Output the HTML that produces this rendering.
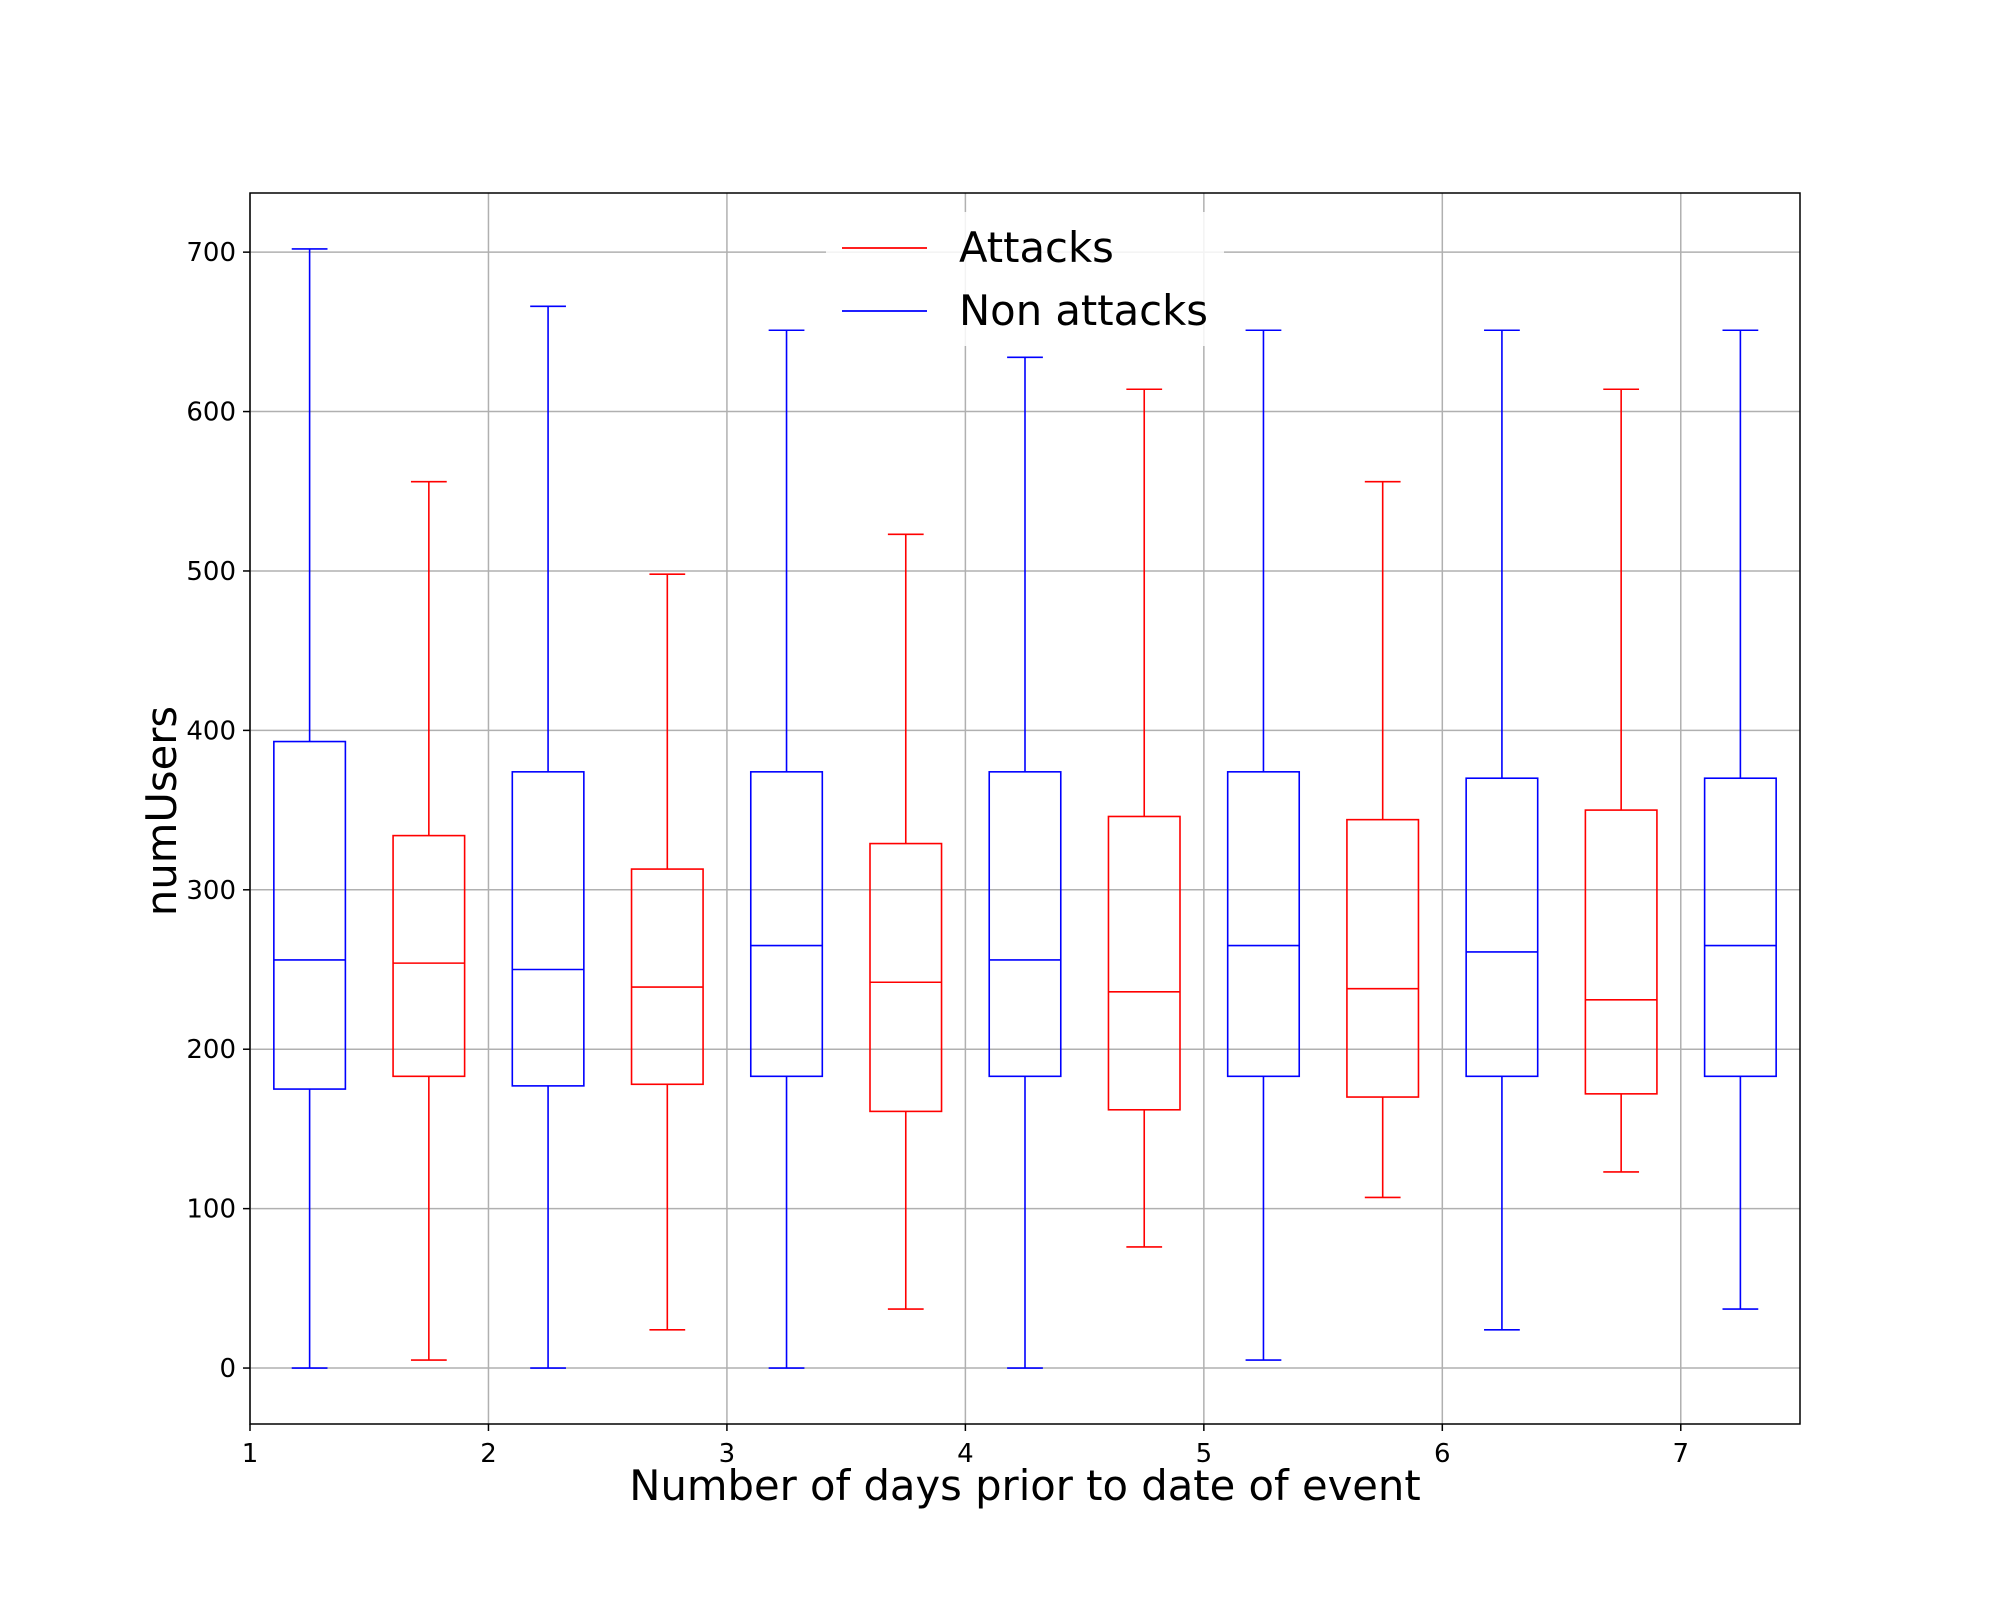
<!DOCTYPE html>
<html><head><meta charset="utf-8"><style>
html,body{margin:0;padding:0;background:#fff;}
svg{display:block;font-family:"DejaVu Sans","Liberation Sans",sans-serif;}
</style></head><body>
<svg id="chart" width="2000" height="1600" viewBox="0 0 2000 1600" xmlns="http://www.w3.org/2000/svg">
<rect width="2000" height="1600" fill="#fff"/>
<g id="grid"></g>
<g id="boxes"></g>
<rect x="250" y="193" width="1550" height="1231" fill="none" stroke="#000" stroke-width="1.5"/>
<g id="ticks"></g>
<text x="1025" y="1500" font-size="41.7" text-anchor="middle">Number of days prior to date of event</text>
<text transform="translate(176,811) rotate(-90)" font-size="41.7" text-anchor="middle">numUsers</text>
<g>
<rect x="826" y="212" width="398" height="134" fill="#fff" fill-opacity="0.85" stroke="none" rx="5"/>
<line x1="842" y1="248" x2="927" y2="248" stroke="#ff0000" stroke-width="1.8"/>
<text x="959" y="262" font-size="41.7">Attacks</text>
<line x1="842" y1="311" x2="927" y2="311" stroke="#0000ff" stroke-width="1.8"/>
<text x="959" y="325" font-size="41.7">Non attacks</text>
</g>
</svg>
<script>
const positions = [1.25,1.75,2.25,2.75,3.25,3.75,4.25,4.75,5.25,5.75,6.25,6.75,7.25];
const series = ['non','att','non','att','non','att','non','att','non','att','non','att','non'];
const whiskerHigh = [702,556,666,498,651,523,634,614,651,556,651,614,651];
const q3 = [393,334,374,313,374,329,374,346,374,344,370,350,370];
const medians = [256,254,250,239,265,242,256,236,265,238,261,231,265];
const q1 = [175,183,177,178,183,161,183,162,183,170,183,172,183];
const whiskerLow = [0,5,0,24,0,37,0,76,5,107,24,123,37];
const xTicks = [1,2,3,4,5,6,7];
const yTicks = [0,100,200,300,400,500,600,700];
const xMin=1,xMax=7.5,yMin=-35.1,yMax=737.1;
const L=250,R=1800,T=193,B=1424;
const sx=v=>L+(v-xMin)/(xMax-xMin)*(R-L);
const sy=v=>B-(v-yMin)/(yMax-yMin)*(B-T);
const NS='http://www.w3.org/2000/svg';
function mk(tag,attrs,parent){const e=document.createElementNS(NS,tag);for(const k in attrs)e.setAttribute(k,attrs[k]);parent.appendChild(e);return e;}
const grid=document.getElementById('grid'),ticks=document.getElementById('ticks'),boxes=document.getElementById('boxes');
xTicks.forEach(t=>{const x=sx(t);
 const g=mk('line',{x1:x,x2:x,y1:T,y2:B,stroke:'#b0b0b0','stroke-width':1.5},grid);
 
 
 const tk=mk('line',{x1:x,x2:x,y1:B,y2:B+7,stroke:'#000','stroke-width':1.5},ticks);
 
 
 const tx=mk('text',{x:x,y:B+38,'font-size':26,'text-anchor':'middle'},ticks);tx.textContent=t;
 
 
});
yTicks.forEach(t=>{const y=sy(t);
 const g=mk('line',{x1:L,x2:R,y1:y,y2:y,stroke:'#b0b0b0','stroke-width':1.5},grid);
 
 
 const tk=mk('line',{x1:L-7,x2:L,y1:y,y2:y,stroke:'#000','stroke-width':1.5},ticks);
 
 
 const tx=mk('text',{x:L-14,y:y+9,'font-size':26,'text-anchor':'end'},ticks);tx.textContent=t;
 
 
});
const w=0.3;
positions.forEach((p,i)=>{
 const c=series[i]==='att'?'#ff0000':'#0000ff';
 const g=mk('g',{stroke:c,'stroke-width':1.6,fill:'none'},boxes);
 
 
 const x0=sx(p-w/2),x1=sx(p+w/2),xc=sx(p),c0=sx(p-w/4),c1=sx(p+w/4);
 mk('rect',{x:x0,y:sy(q3[i]),width:x1-x0,height:sy(q1[i])-sy(q3[i])},g);
 mk('line',{x1:x0,x2:x1,y1:sy(medians[i]),y2:sy(medians[i])},g);
 mk('line',{x1:xc,x2:xc,y1:sy(q3[i]),y2:sy(whiskerHigh[i])},g);
 mk('line',{x1:xc,x2:xc,y1:sy(q1[i]),y2:sy(whiskerLow[i])},g);
 mk('line',{x1:c0,x2:c1,y1:sy(whiskerHigh[i]),y2:sy(whiskerHigh[i])},g);
 mk('line',{x1:c0,x2:c1,y1:sy(whiskerLow[i]),y2:sy(whiskerLow[i])},g);
});
</script>
</body></html>
